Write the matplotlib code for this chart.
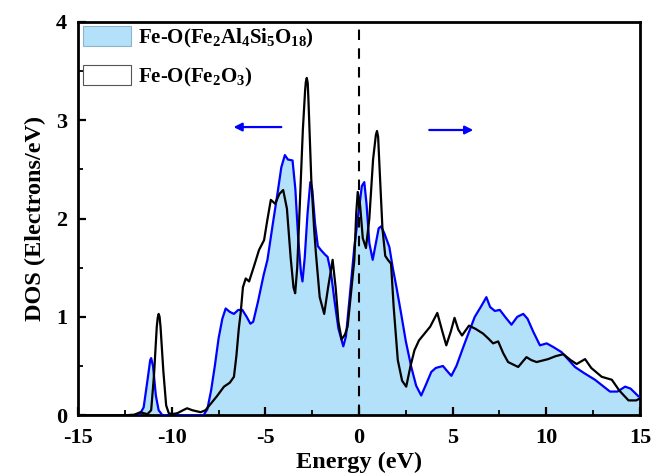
import matplotlib
matplotlib.use("Agg")
import matplotlib.pyplot as plt
from matplotlib.patches import Patch
import numpy as np

# ---- data -------------------------------------------------------------
energy_alsi = [-15, -12.0, -11.7, -11.5, -11.3, -11.15, -11.1, -11.0, -10.85, -10.7, -10.5,
               -8.3, -8.1, -7.9, -7.7, -7.5, -7.3, -7.12, -6.9, -6.68, -6.45, -6.23, -6.0,
               -5.8, -5.65, -5.4, -5.1, -4.89, -4.6, -4.35, -4.15, -3.96, -3.8, -3.55, -3.4,
               -3.25, -3.1, -3.02, -2.9, -2.75, -2.6, -2.5, -2.35, -2.2, -2.04, -1.8, -1.68,
               -1.5, -1.3, -1.1, -0.84, -0.7, -0.5, -0.25, 0.0, 0.15, 0.28, 0.4, 0.55, 0.73,
               0.9, 1.05, 1.18, 1.35, 1.62, 1.8, 2.0, 2.25, 2.5, 2.79, 3.05, 3.32, 3.55, 3.86,
               4.1, 4.48, 4.7, 4.93, 5.2, 5.64, 6.18, 6.5, 6.8, 7.0, 7.25, 7.52, 7.8, 8.14,
               8.45, 8.77, 9.0, 9.3, 9.66, 10.02, 10.4, 10.82, 11.2, 11.53, 12.0, 12.6, 13.0,
               13.4, 13.8, 14.21, 14.5, 14.93, 15]
dos_alsi = [0, 0, 0.01, 0.08, 0.35, 0.56, 0.58, 0.5, 0.2, 0.05, 0.0,
            0.0, 0.06, 0.25, 0.5, 0.78, 0.98, 1.085, 1.05, 1.03, 1.07, 1.07, 1.0,
            0.93, 0.95, 1.15, 1.42, 1.58, 1.95, 2.26, 2.52, 2.645, 2.6, 2.59, 2.3,
            1.8, 1.45, 1.36, 1.6, 2.05, 2.37, 2.3, 1.95, 1.72, 1.68, 1.63, 1.61,
            1.45, 1.15, 0.88, 0.70, 0.8, 1.2, 1.71, 2.1, 2.33, 2.37, 2.15, 1.75, 1.58,
            1.75, 1.9, 1.92, 1.85, 1.71, 1.5, 1.3, 1.03, 0.75, 0.49, 0.3, 0.20, 0.3, 0.44,
            0.48, 0.50, 0.45, 0.40, 0.5, 0.73, 1.0, 1.1, 1.2, 1.1, 1.06, 1.07, 1.0, 0.92,
            1.0, 1.03, 0.98, 0.85, 0.71, 0.73, 0.69, 0.64, 0.56, 0.49, 0.43, 0.36, 0.30,
            0.24, 0.24, 0.29, 0.27, 0.19, 0.19]

energy_fe2o3 = [-15, -12.4, -12.0, -11.8, -11.68, -11.5, -11.3, -11.1, -10.95, -10.8, -10.75,
                -10.7, -10.65, -10.6, -10.45, -10.3, -10.16, -10.0, -9.7, -9.4, -9.18, -8.9,
                -8.46, -8.2, -7.9, -7.6, -7.21, -6.9, -6.68, -6.55, -6.42, -6.32, -6.2, -6.05,
                -5.87, -5.6, -5.34, -5.07, -4.9, -4.71, -4.48, -4.25, -4.05, -3.85, -3.65,
                -3.5, -3.41, -3.3, -3.15, -3.0, -2.88, -2.84, -2.79, -2.74, -2.7, -2.55, -2.4,
                -2.3, -2.1, -1.86, -1.65, -1.41, -1.25, -1.1, -0.93, -0.75, -0.61, -0.45,
                -0.25, -0.15, -0.07, 0.05, 0.2, 0.37, 0.55, 0.75, 0.9, 0.96, 1.02, 1.1, 1.25,
                1.4, 1.54, 1.71, 1.85, 2.07, 2.3, 2.52, 2.75, 2.96, 3.2, 3.5, 3.8, 4.18, 4.45,
                4.66, 4.9, 5.1, 5.3, 5.5, 5.87, 6.2, 6.62, 6.9, 7.16, 7.43, 7.7, 7.96, 8.5,
                8.94, 9.2, 9.48, 10.1, 10.5, 10.91, 11.3, 11.62, 12.07, 12.4, 12.96, 13.5,
                13.9, 14.39, 14.8, 15]
dos_fe2o3 = [0, 0, 0.005, 0.02, 0.03, 0.02, 0.01, 0.05, 0.4, 0.9, 0.99,
             1.03, 1.0, 0.9, 0.45, 0.1, 0.02, 0.01, 0.02, 0.05, 0.07, 0.05,
             0.03, 0.05, 0.12, 0.19, 0.29, 0.33, 0.39, 0.6, 0.88, 1.04, 1.3, 1.39,
             1.36, 1.52, 1.68, 1.78, 1.98, 2.19, 2.15, 2.25, 2.29, 2.1, 1.6,
             1.3, 1.24, 1.5, 2.2, 2.9, 3.3, 3.39, 3.43, 3.38, 3.2, 2.4, 1.9,
             1.64, 1.2, 1.03, 1.3, 1.58, 1.3, 0.95, 0.77, 0.82, 0.90, 1.2,
             1.58, 2.05, 2.27, 2.15, 1.8, 1.70, 2.0, 2.6, 2.85, 2.89, 2.83, 2.5, 1.9,
             1.62, 1.58, 1.54, 1.1, 0.56, 0.35, 0.29, 0.5, 0.66, 0.76, 0.83, 0.9, 1.04, 0.85,
             0.71, 0.85, 0.99, 0.87, 0.81, 0.91, 0.88, 0.83, 0.78, 0.73, 0.75, 0.63, 0.54, 0.49,
             0.59, 0.56, 0.54, 0.57, 0.6, 0.62, 0.56, 0.52, 0.57, 0.48, 0.39, 0.36,
             0.25, 0.15, 0.15, 0.17]

legend_labels = [r"Fe-O(Fe$_2$Al$_4$Si$_5$O$_{18}$)", r"Fe-O(Fe$_2$O$_3$)"]
x_ticks = [-15, -10, -5, 0, 5, 10, 15]
y_ticks = [0, 1, 2, 3, 4]

# ---- style ------------------------------------------------------------
plt.rcParams["font.family"] = ["Liberation Serif", "DejaVu Serif"]
plt.rcParams["font.weight"] = "bold"
plt.rcParams["axes.unicode_minus"] = False
plt.rcParams["mathtext.fontset"] = "custom"
plt.rcParams["mathtext.rm"] = "Liberation Serif:bold"
plt.rcParams["mathtext.bf"] = "Liberation Serif:bold"
plt.rcParams["mathtext.it"] = "Liberation Serif:bold"
plt.rcParams["mathtext.default"] = "bf"

fill_color = "#b4e1fa"
blue = "#0000ff"

fig = plt.figure(figsize=(6.51, 4.75), dpi=100)
ax = fig.add_axes([0.12, 0.126, 0.863, 0.828])

ax.fill_between(energy_alsi, dos_alsi, 0, color=fill_color, lw=0, zorder=1)
ax.plot(energy_alsi, dos_alsi, color=blue, lw=1.6, zorder=3)
ax.plot(energy_fe2o3, dos_fe2o3, color="black", lw=1.6, zorder=4)
ax.axvline(0, color="black", lw=1.5, ls=(0, (5, 4)), zorder=5)

# arrows
ax.annotate("", xy=(-6.7, 2.93), xytext=(-4.15, 2.93),
            arrowprops=dict(arrowstyle="-|>", color=blue, lw=1.6,
                            mutation_scale=12, shrinkA=0, shrinkB=0))
ax.annotate("", xy=(6.1, 2.9), xytext=(3.75, 2.9),
            arrowprops=dict(arrowstyle="-|>", color=blue, lw=1.6,
                            mutation_scale=12, shrinkA=0, shrinkB=0))

ax.set_xlim(-15, 15)
ax.set_ylim(0, 4)
ax.set_xticks(x_ticks)
ax.set_yticks(y_ticks)
ax.set_xticks(np.arange(-12.5, 15, 5), minor=True)
ax.set_yticks(np.arange(0.5, 4, 1), minor=True)
ax.tick_params(which="major", direction="in", length=6, width=1.6, labelsize=16)
ax.tick_params(axis="x", which="major", pad=9)
ax.tick_params(axis="y", which="major", pad=8)
ax.tick_params(which="minor", direction="in", length=3.5, width=1.3)
for lab in ax.get_xticklabels() + ax.get_yticklabels():
    lab.set_fontweight("bold")
for sp in ax.spines.values():
    sp.set_linewidth(2)

ax.set_xlabel("Energy (eV)", fontsize=17.5, fontweight="bold", labelpad=3)
ax.set_ylabel("DOS (Electrons/eV)", fontsize=17.5, fontweight="bold", labelpad=7)

handles = [Patch(facecolor=fill_color, edgecolor="#8fb3c8", lw=0.8),
           Patch(facecolor="white", edgecolor="#555555", lw=0.8)]
ax.legend(handles, legend_labels, loc="upper left", frameon=False,
          prop=dict(size=15, weight="bold"), handlelength=2.3, handleheight=1.1,
          handletextpad=0.35, borderaxespad=0.1, borderpad=0.12, labelspacing=0.72)

fig.savefig("out.png", dpi=100)
